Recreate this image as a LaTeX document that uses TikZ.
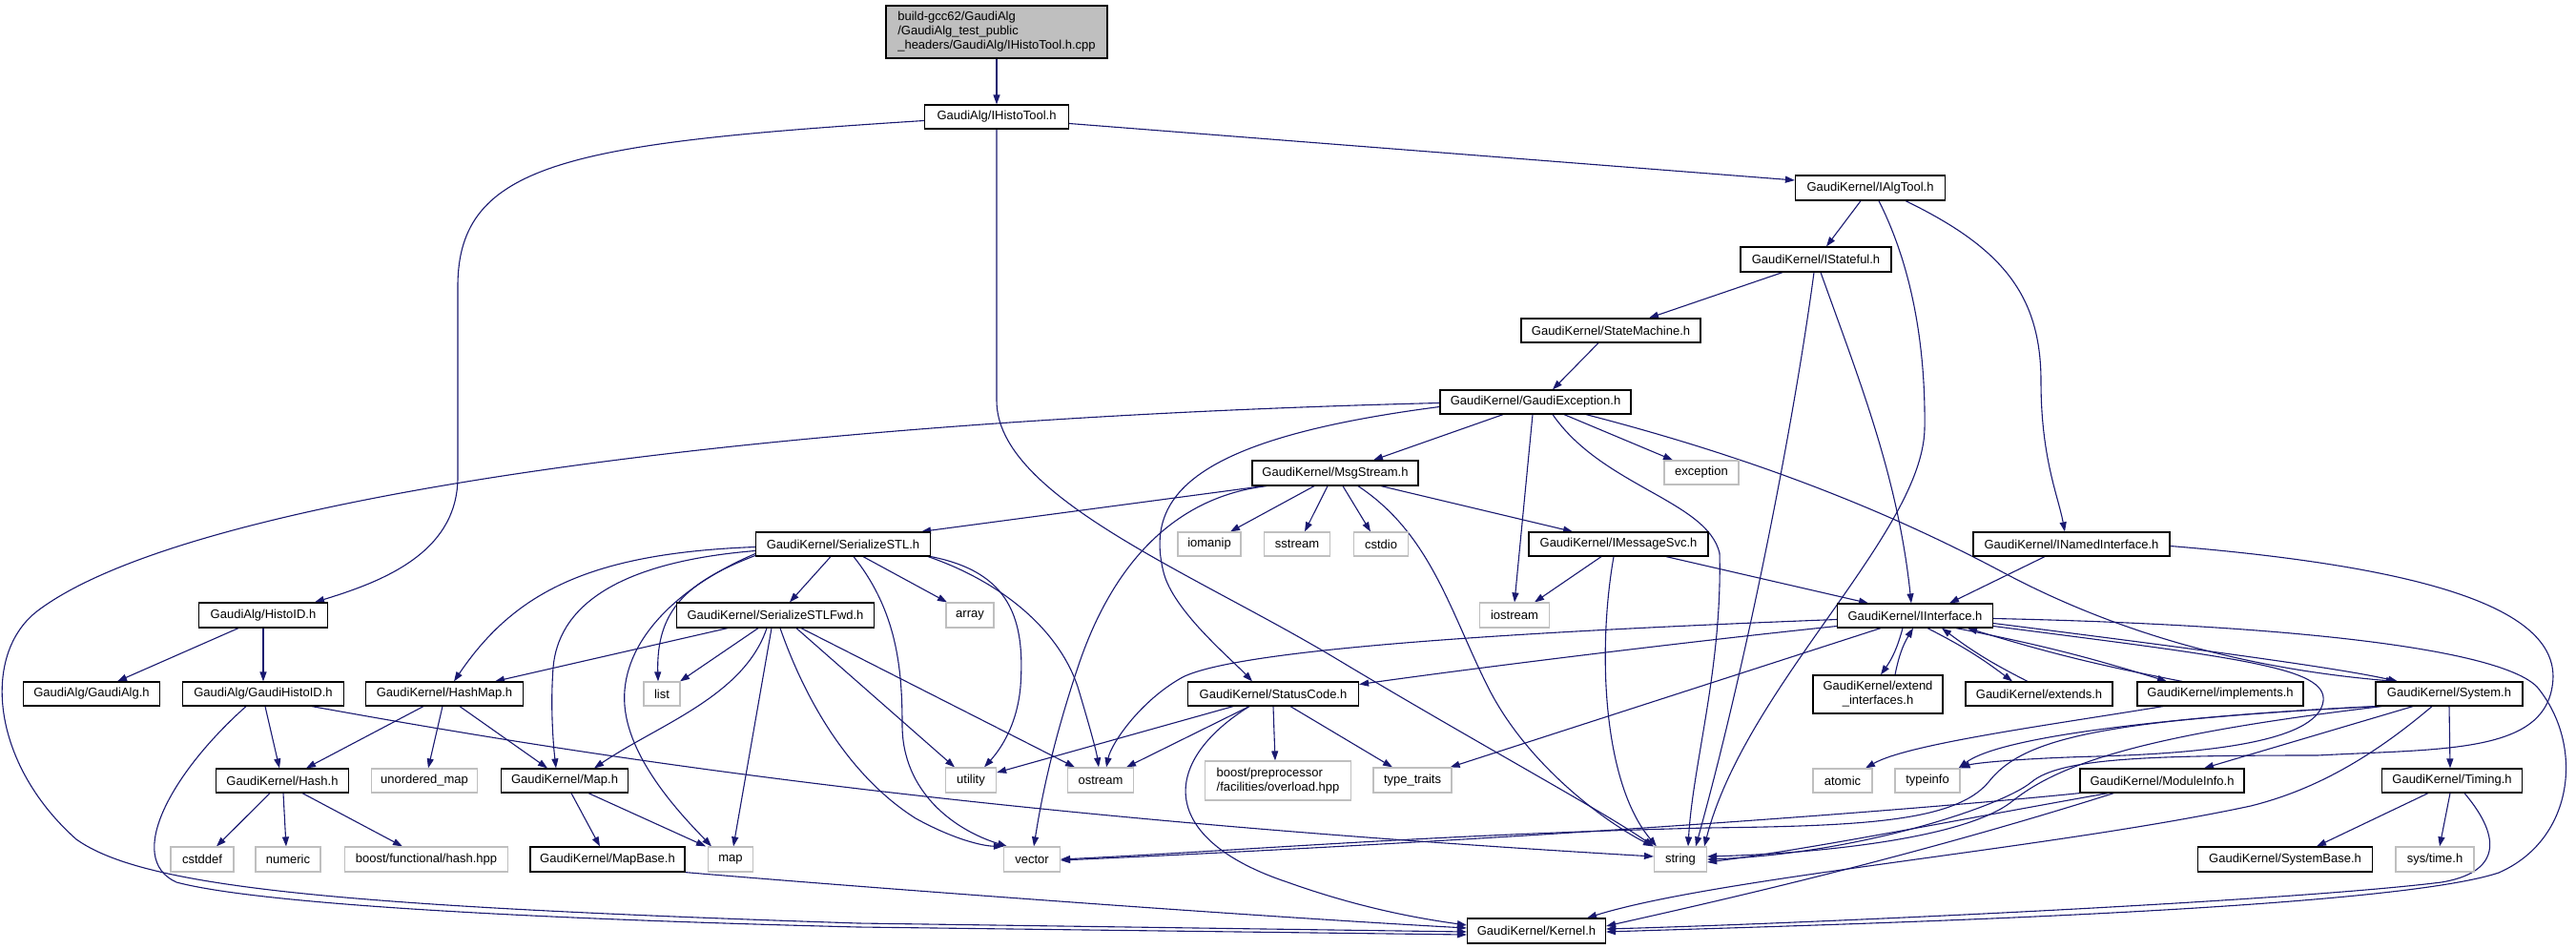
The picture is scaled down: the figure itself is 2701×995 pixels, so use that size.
\documentclass[tikz,border=0pt]{standalone}
\usepackage{fontspec}
\setmainfont{Liberation Sans}
\usetikzlibrary{arrows.meta}
\definecolor{edgecol}{HTML}{191970}
\definecolor{graybox}{HTML}{BFBFBF}
\pgfdeclarelayer{bg}
\pgfsetlayers{bg,main}
\tikzset{
 kb/.style={draw=black, line width=1.2pt, fill=white, inner sep=0pt, minimum height=25pt, font=\fontsize{13}{15}\selectfont},
 gb/.style={kb, draw=graybox},
 ed/.style={draw=edgecol, line width=1.1pt, -{Triangle[length=10pt,width=7pt]}},
}
\begin{document}
\begin{tikzpicture}[x=1pt,y=-1pt]
\useasboundingbox (0,0) rectangle (2701,995);
% nodes
\node[kb, fill=graybox, minimum width=232pt, minimum height=55pt, align=left] (root) at (1045,33.5) {build-gcc62/GaudiAlg\\/GaudiAlg\_test\_public\\\_headers/GaudiAlg/IHistoTool.h.cpp};
\node[kb, minimum width=151pt] (ih) at (1045,122.5) {GaudiAlg/IHistoTool.h};
\node[kb, minimum width=157pt, minimum height=26pt] (iat) at (1961,197) {GaudiKernel/IAlgTool.h};
\node[kb, minimum width=158pt, minimum height=26pt] (ist) at (1904,272) {GaudiKernel/IStateful.h};
\node[kb, minimum width=188pt] (sm) at (1689,346.5) {GaudiKernel/StateMachine.h};
\node[kb, minimum width=200pt] (gex) at (1610,421.5) {GaudiKernel/GaudiException.h};
\node[kb, minimum width=174pt, minimum height=26pt] (msg) at (1400,496) {GaudiKernel/MsgStream.h};
\node[gb, minimum width=78pt] (exc) at (1784,495.5) {exception};
\node[kb, minimum width=183pt] (sstl) at (884,570.5) {GaudiKernel/SerializeSTL.h};
\node[gb, minimum width=66pt] (iom) at (1268,570.5) {iomanip};
\node[gb, minimum width=69pt] (sst) at (1360,570.5) {sstream};
\node[gb, minimum width=57pt] (cst) at (1448,570.5) {cstdio};
\node[kb, minimum width=188pt] (ims) at (1697,570.5) {GaudiKernel/IMessageSvc.h};
\node[kb, minimum width=206pt] (ini) at (2172,570.5) {GaudiKernel/INamedInterface.h};
\node[kb, minimum width=135pt, minimum height=26pt] (hid) at (276,645) {GaudiAlg/HistoID.h};
\node[kb, minimum width=207pt, minimum height=26pt] (fwd) at (813,645) {GaudiKernel/SerializeSTLFwd.h};
\node[gb, minimum width=50pt, minimum height=26pt] (arr) at (1017,645) {array};
\node[gb, minimum width=73pt, minimum height=26pt] (ios) at (1588,645) {iostream};
\node[kb, minimum width=163pt] (iif) at (2008,645.5) {GaudiKernel/IInterface.h};
\node[kb, minimum width=143pt] (ga) at (96,727.5) {GaudiAlg/GaudiAlg.h};
\node[kb, minimum width=169pt] (ghid) at (276,727.5) {GaudiAlg/GaudiHistoID.h};
\node[kb, minimum width=165pt] (hm) at (466,727.5) {GaudiKernel/HashMap.h};
\node[gb, minimum width=38pt] (lst) at (694,727.5) {list};
\node[kb, minimum width=179pt] (sc) at (1335,727.5) {GaudiKernel/StatusCode.h};
\node[kb, minimum width=136pt, minimum height=40pt, align=center] (ext) at (1969,728) {GaudiKernel/extend\\\_interfaces.h};
\node[kb, minimum width=154pt] (exd) at (2138,727.5) {GaudiKernel/extends.h};
\node[kb, minimum width=174pt] (imp) at (2328,727.5) {GaudiKernel/implements.h};
\node[kb, minimum width=154pt] (sys) at (2568,727.5) {GaudiKernel/System.h};
\node[kb, minimum width=139pt] (hsh) at (296,818.5) {GaudiKernel/Hash.h};
\node[gb, minimum width=111pt] (um) at (445,818.5) {unordered\_map};
\node[kb, minimum width=133pt] (map) at (592,818.5) {GaudiKernel/Map.h};
\node[gb, minimum width=53pt, minimum height=26pt] (utl) at (1018,818) {utility};
\node[gb, minimum width=69pt, minimum height=26pt] (ost) at (1154,818) {ostream};
\node[gb, minimum width=153pt, minimum height=41pt, align=left] (bpp) at (1340,818.5) {boost/preprocessor\\/facilities/overload.hpp};
\node[gb, minimum width=82pt, minimum height=26pt] (tt) at (1481,818) {type\_traits};
\node[gb, minimum width=62pt] (atm) at (1932,818.5) {atomic};
\node[gb, minimum width=68pt] (tyi) at (2021,818.5) {typeinfo};
\node[kb, minimum width=172pt] (mi) at (2267,818.5) {GaudiKernel/ModuleInfo.h};
\node[kb, minimum width=147pt] (tim) at (2571,818.5) {GaudiKernel/Timing.h};
\node[gb, minimum width=66pt, minimum height=26pt] (cdf) at (212,901) {cstddef};
\node[gb, minimum width=68pt, minimum height=26pt] (num) at (302,901) {numeric};
\node[gb, minimum width=171pt, minimum height=26pt] (bfh) at (447,901) {boost/functional/hash.hpp};
\node[kb, minimum width=162pt, minimum height=26pt] (mb) at (637,901) {GaudiKernel/MapBase.h};
\node[gb, minimum width=47pt, minimum height=26pt] (smap) at (766,901) {map};
\node[gb, minimum width=59pt, minimum height=26pt] (vec) at (1082,901) {vector};
\node[gb, minimum width=55pt, minimum height=26pt] (str) at (1762,901) {string};
\node[kb, minimum width=183pt, minimum height=26pt] (sb) at (2396,901) {GaudiKernel/SystemBase.h};
\node[gb, minimum width=82pt, minimum height=26pt] (stm) at (2553,901) {sys/time.h};
\node[kb, minimum width=145pt, minimum height=26pt] (ker) at (1611,976) {GaudiKernel/Kernel.h};

\begin{pgfonlayer}{bg}
\fill[white] (0,0) rectangle (2701,995);
% root / IHistoTool
\draw[ed] (root.south) -- (ih.north);
\draw[ed] ([yshift=-7pt]ih.east) -- ([yshift=8pt]iat.west);
\draw[ed] ([yshift=-4pt]ih.west) .. controls (600,150) and (480,170) .. (480,300) -- (480,500) .. controls (480,580) and (400,610) .. ([xshift=54pt]hid.north);
\draw[ed] (ih.south) -- (1045,420) .. controls (1045,520) and (1250,600) .. (1400,690) .. controls (1550,780) and (1680,850) .. (str.north west);
% IAlgTool
\draw[ed] ([xshift=-10pt]iat.south) -- ([xshift=11pt]ist.north);
\draw[ed] ([xshift=9pt]iat.south) .. controls (2010,290) and (2019,380) .. (2018,450) .. controls (2015,560) and (1830,720) .. ([xshift=25pt]str.north);
\draw[ed] ([xshift=37pt]iat.south) .. controls (2100,260) and (2140,310) .. (2140,400) .. controls (2140,480) and (2158,520) .. ([xshift=-7pt]ini.north);
% IStateful
\draw[ed] ([xshift=-35pt]ist.south) -- ([xshift=40pt]sm.north);
\draw[ed] ([xshift=-2pt]ist.south) .. controls (1880,450) and (1830,700) .. ([xshift=16pt]str.north);
\draw[ed] ([xshift=5pt]ist.south) .. controls (1950,400) and (1990,500) .. ([xshift=-4pt]iif.north);
\draw[ed] ([xshift=-13pt]sm.south) -- ([xshift=18pt]gex.north);
% GaudiException
\draw[ed] ([yshift=-1pt]gex.west) .. controls (800,440) and (200,520) .. (40,640) .. controls (-20,685) and (-10,800) .. (80,880) .. controls (150,930) and (350,950) .. (900,968) -- ([yshift=-1pt]ker.west);
\draw[ed] ([xshift=-34pt]gex.south) -- ([xshift=40pt]msg.north);
\draw[ed] ([yshift=-5pt]gex.west) .. controls (1250,460) and (1200,520) .. (1220,600) .. controls (1230,640) and (1290,690) .. ([xshift=-22pt]sc.north);
\draw[ed] ([xshift=-3pt]gex.south) -- (ios.north);
\draw[ed] ([xshift=18pt]gex.south) .. controls (1680,510) and (1790,525) .. (1803,580) .. controls (1806,700) and (1775,800) .. ([xshift=8pt]str.north);
\draw[ed] ([xshift=30pt]gex.south) -- ([xshift=-30pt]exc.north);
\draw[ed] ([xshift=53pt]gex.south) .. controls (1800,470) and (1950,520) .. (2100,600) .. controls (2250,680) and (2400,705) .. ([xshift=-56pt]sys.north);
% MsgStream
\draw[ed] ([xshift=-75pt]msg.south) -- ([xshift=82pt]sstl.north);
\draw[ed] ([xshift=-22pt]msg.south) -- ([xshift=22pt]iom.north);
\draw[ed] ([xshift=-8pt]msg.south) -- ([xshift=8pt]sst.north);
\draw[ed] ([xshift=8pt]msg.south) -- ([xshift=-11pt]cst.north);
\draw[ed] ([xshift=48pt]msg.south) -- ([xshift=-48pt]ims.north);
\draw[ed] ([xshift=-72pt]msg.south) .. controls (1200,525) and (1150,640) .. (1130,700) .. controls (1100,790) and (1090,850) .. ([xshift=2pt]vec.north);
\draw[ed] ([xshift=24pt]msg.south) .. controls (1500,560) and (1520,640) .. (1560,720) .. controls (1600,800) and (1680,860) .. ([xshift=-1pt]str.north west);
% IMessageSvc
\draw[ed] ([xshift=-18pt]ims.south) -- ([xshift=21pt]ios.north);
\draw[ed] ([xshift=-5pt]ims.south) .. controls (1675,680) and (1680,820) .. ([xshift=3pt]str.north west);
\draw[ed] ([xshift=50pt]ims.south) -- ([xshift=-49pt]iif.north);
% SerializeSTL
\draw[ed] ([yshift=-3pt]sstl.west) .. controls (620,580) and (540,620) .. ([xshift=10pt]hm.north);
\draw[ed] ([yshift=-7pt]sstl.west) .. controls (640,590) and (585,640) .. (580,700) .. controls (577,740) and (580,780) .. ([xshift=-9pt]map.north);
\draw[ed] ([yshift=-10pt]sstl.west) .. controls (700,620) and (650,680) .. (655,740) .. controls (660,800) and (720,860) .. ([xshift=-20pt]smap.north);
\draw[ed] ([yshift=-12pt]sstl.west) .. controls (720,610) and (688,640) .. ([xshift=-4pt]lst.north);
\draw[ed] ([xshift=-13pt]sstl.south) -- ([xshift=15pt]fwd.north);
\draw[ed] ([xshift=21pt]sstl.south) -- ([xshift=-24pt]arr.north);
\draw[ed] ([xshift=11pt]sstl.south) .. controls (940,640) and (946,700) .. (946,760) .. controls (946,830) and (1000,870) .. ([xshift=-26pt]vec.north);
\draw[ed] (sstl.south east) .. controls (1060,600) and (1075,650) .. (1070,720) .. controls (1066,765) and (1045,790) .. ([xshift=14pt]utl.north);
\draw[ed] ([xshift=-3pt]sstl.south east) .. controls (1050,610) and (1110,660) .. (1130,720) .. controls (1145,770) and (1150,790) .. ([xshift=-2pt]ost.north);
% SerializeSTLFwd
\draw[ed] ([xshift=-50pt]fwd.south) -- ([xshift=53pt]hm.north);
\draw[ed] ([xshift=-18pt]fwd.south) -- ([xshift=19pt]lst.north);
\draw[ed] ([xshift=-9pt]fwd.south) .. controls (780,730) and (690,760) .. ([xshift=31pt]map.north);
\draw[ed] ([xshift=-4pt]fwd.south) -- ([xshift=3pt]smap.north);
\draw[ed] ([xshift=5pt]fwd.south) .. controls (850,750) and (900,820) .. (960,858) .. controls (1000,880) and (1030,887) .. (vec.north west);
\draw[ed] ([xshift=22pt]fwd.south) -- ([xshift=-17pt]utl.north);
\draw[ed] ([xshift=27pt]fwd.south) -- ([xshift=-27pt]ost.north);
% HashMap, Hash, Map
\draw[ed] ([xshift=-22pt]hm.south) -- ([xshift=25pt]hsh.north);
\draw[ed] ([xshift=-2pt]hm.south) -- ([xshift=4pt]um.north);
\draw[ed] ([xshift=16pt]hm.south) -- ([xshift=-18pt]map.north);
\draw[ed] ([xshift=-13pt]hsh.south) -- ([xshift=15pt]cdf.north);
\draw[ed] ([xshift=1pt]hsh.south) -- ([xshift=-2pt]num.north);
\draw[ed] ([xshift=21pt]hsh.south) -- ([xshift=-25pt]bfh.north);
\draw[ed] ([xshift=7pt]map.south) -- ([xshift=-8pt]mb.north);
\draw[ed] ([xshift=25pt]map.south) -- ([xshift=-26pt]smap.north);
\draw[ed] (mb.south east) .. controls (900,930) and (1300,960) .. ([yshift=3pt]ker.west);
% HistoID
\draw[ed] ([xshift=-26pt]hid.south) -- ([xshift=27pt]ga.north);
\draw[ed] (hid.south) -- (ghid.north);
\draw[ed] ([xshift=2pt]ghid.south) -- ([xshift=-3pt]hsh.north);
\draw[ed] ([xshift=-18pt]ghid.south) .. controls (180,810) and (130,900) .. (185,925) .. controls (260,945) and (500,962) .. (900,972) -- ([yshift=-4pt]ker.west);
\draw[ed] ([xshift=51pt]ghid.south) .. controls (600,790) and (1000,855) .. ([yshift=3pt]str.west);
% StatusCode
\draw[ed] ([xshift=-42pt]sc.south) -- ([yshift=8pt]utl.east);
\draw[ed] ([xshift=-25pt]sc.south) -- ([xshift=27pt]ost.north);
\draw[ed] ([xshift=-25pt]sc.south) .. controls (1215,800) and (1215,880) .. (1350,925) .. controls (1420,950) and (1480,962) .. ([yshift=6pt]ker.west);
\draw[ed] (sc.south) -- ([xshift=-3pt]bpp.north);
\draw[ed] ([xshift=18pt]sc.south) -- ([xshift=-21pt]tt.north);
% IInterface
\draw[ed] ([yshift=-4pt]iif.west) .. controls (1600,662) and (1300,680) .. (1240,710) .. controls (1195,735) and (1165,780) .. ([xshift=6pt]ost.north);
\draw[ed] ([yshift=-11pt]iif.west) .. controls (1750,675) and (1550,700) .. ([yshift=10pt]sc.east);
\draw[ed] ([xshift=-36pt]iif.south) -- ([xshift=-2pt]tt.north east);
\draw[ed] ([xshift=-13pt]iif.south) to[bend left=10] ([xshift=3pt]ext.north);
\draw[ed] ([xshift=18pt]ext.north) to[bend left=10] ([xshift=-2pt]iif.south);
\draw[ed] ([xshift=13pt]iif.south) to[bend left=5] ([xshift=-28pt]exd.north);
\draw[ed] ([xshift=-12pt]exd.north) to[bend left=5] ([xshift=28pt]iif.south);
\draw[ed] ([xshift=43pt]iif.south) to[bend left=3] ([xshift=-56pt]imp.north);
\draw[ed] ([xshift=-40pt]imp.north) to[bend left=3] ([xshift=55pt]iif.south);
\draw[ed] ([yshift=-8pt]iif.east) .. controls (2300,680) and (2450,700) .. ([xshift=-54pt]sys.north);
\draw[ed] ([yshift=-11pt]iif.east) .. controls (2350,690) and (2440,700) .. (2436,735) .. controls (2430,780) and (2300,790) .. (2200,793) .. controls (2120,795) and (2070,800) .. (tyi.north east);
\draw[ed] ([yshift=-3pt]iif.east) .. controls (2400,655) and (2620,680) .. (2660,720) .. controls (2710,780) and (2700,880) .. (2620,915) .. controls (2500,955) and (1900,970) .. ([yshift=-1pt]ker.east);
% INamedInterface
\draw[ed] ([xshift=-28pt]ini.south) -- ([xshift=36pt]iif.north);
\draw[ed] ([yshift=-2pt]ini.east) .. controls (2550,595) and (2690,640) .. (2676,720) .. controls (2665,790) and (2560,785) .. (2430,792) .. controls (2250,792) and (2160,795) .. (2130,820) .. controls (2100,845) and (1950,895) .. (str.east);
% implements
\draw[ed] ([xshift=-60pt]imp.south) .. controls (2150,760) and (2000,780) .. ([xshift=24pt]atm.north);
% System
\draw[ed] (sys.south west) .. controls (2300,750) and (2100,770) .. ([xshift=-2pt]tyi.north east);
\draw[ed] ([xshift=-38pt]sys.south) -- ([xshift=44pt]mi.north);
\draw[ed] (sys.south) -- ([xshift=-2pt]tim.north);
\draw[ed] ([xshift=2pt]sys.south west) .. controls (2200,755) and (2120,775) .. (2085,820) .. controls (2050,862) and (1950,866) .. (1790,868) .. controls (1500,875) and (1300,892) .. (vec.east);
\draw[ed] ([xshift=7pt]sys.south west) .. controls (2250,770) and (2160,800) .. (2110,840) .. controls (2060,880) and (1900,895) .. ([yshift=3pt]str.east);
\draw[ed] ([xshift=-18pt]sys.south) .. controls (2480,800) and (2420,830) .. (2360,845) .. controls (2150,890) and (1800,920) .. ([xshift=-20pt]ker.north east);
% ModuleInfo
\draw[ed] (mi.south west) .. controls (2000,850) and (1600,880) .. ([yshift=-1pt]vec.east);
\draw[ed] ([xshift=30pt]mi.south west) .. controls (2050,860) and (1900,890) .. ([yshift=-3pt]str.east);
\draw[ed] ([xshift=36pt]mi.south west) .. controls (2000,900) and (1800,945) .. ([yshift=5pt]ker.east);
% Timing
\draw[ed] ([xshift=-25pt]tim.south) -- ([xshift=33pt]sb.north);
\draw[ed] ([xshift=-2pt]tim.south) -- ([xshift=5pt]stm.north);
\draw[ed] ([xshift=13pt]tim.south) .. controls (2625,880) and (2620,915) .. (2560,925) .. controls (2400,945) and (1900,968) .. ([yshift=2pt]ker.east);
\end{pgfonlayer}
\end{tikzpicture}
\end{document}
